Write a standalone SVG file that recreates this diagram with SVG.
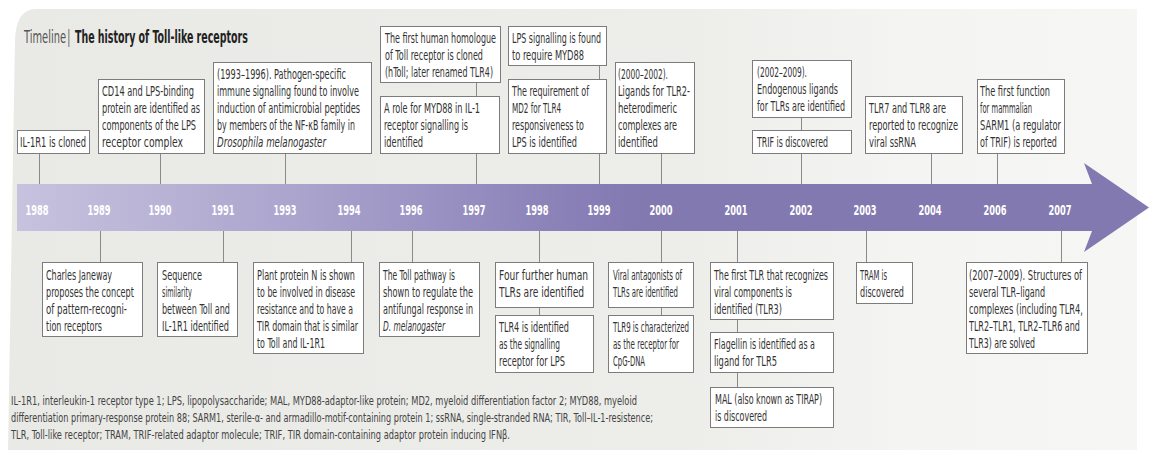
<svg xmlns="http://www.w3.org/2000/svg" width="1151" height="450" viewBox="0 0 1151 450">
<defs>
<linearGradient id="panelG" gradientUnits="userSpaceOnUse" x1="0" y1="0" x2="1140" y2="0">
<stop offset="0" stop-color="#e9e9e5"/>
<stop offset="0.6" stop-color="#ededea"/>
<stop offset="0.8" stop-color="#f4f4f2"/>
<stop offset="1" stop-color="#f6f6f4"/>
</linearGradient>
<linearGradient id="bandG" gradientUnits="userSpaceOnUse" x1="17" y1="0" x2="640" y2="0">
<stop offset="0" stop-color="#c7c2de"/>
<stop offset="0.45" stop-color="#aba4cd"/>
<stop offset="0.85" stop-color="#8c83b9"/>
<stop offset="1" stop-color="#8379b1"/>
</linearGradient>
<style>
.t{font-family:"DejaVu Sans Condensed","Liberation Sans Narrow","Liberation Sans",sans-serif;font-size:13.5px;fill:#333}
.i{font-style:italic}
.bx{fill:#fff;stroke:#7c7c7c;stroke-width:1}
.c line{stroke:#8a8a8a;stroke-width:1}
.y{font-family:"DejaVu Sans Condensed","Liberation Sans Narrow","Liberation Sans",sans-serif;font-size:14px;font-weight:bold;fill:#fff;text-anchor:middle}
.f{font-family:"DejaVu Sans Condensed","Liberation Sans Narrow","Liberation Sans",sans-serif;font-size:12.5px;fill:#444}
text{lengthAdjust:spacingAndGlyphs}
</style>
</defs>
<rect width="1151" height="450" fill="#fff"/>
<path d="M36 9 H1137 V450 H8 L15 40 Q16 9 36 9 Z" fill="url(#panelG)"/>
<text transform="translate(24,43) scale(0.6,1)" class="t" style="font-size:17px;fill:#555"><tspan x="0" textLength="70" lengthAdjust="spacingAndGlyphs">Timeline</tspan><tspan x="72">|</tspan><tspan x="85" font-weight="bold" fill="#222" textLength="288" lengthAdjust="spacingAndGlyphs">The history of Toll-like receptors</tspan></text>

<g id="timeline-arrow">
<polygon points="17,184 1092,184 1084,163 1149,207.5 1084,252 1092,231 17,231" fill="url(#bandG)"/>
<text class="y" x="37" y="215" textLength="23" lengthAdjust="spacingAndGlyphs">1988</text>
<text class="y" x="99" y="215" textLength="23" lengthAdjust="spacingAndGlyphs">1989</text>
<text class="y" x="160" y="215" textLength="23" lengthAdjust="spacingAndGlyphs">1990</text>
<text class="y" x="223" y="215" textLength="23" lengthAdjust="spacingAndGlyphs">1991</text>
<text class="y" x="285" y="215" textLength="23" lengthAdjust="spacingAndGlyphs">1993</text>
<text class="y" x="349" y="215" textLength="23" lengthAdjust="spacingAndGlyphs">1994</text>
<text class="y" x="411" y="215" textLength="23" lengthAdjust="spacingAndGlyphs">1996</text>
<text class="y" x="474" y="215" textLength="23" lengthAdjust="spacingAndGlyphs">1997</text>
<text class="y" x="537" y="215" textLength="23" lengthAdjust="spacingAndGlyphs">1998</text>
<text class="y" x="599" y="215" textLength="23" lengthAdjust="spacingAndGlyphs">1999</text>
<text class="y" x="661" y="215" textLength="23" lengthAdjust="spacingAndGlyphs">2000</text>
<text class="y" x="736" y="215" textLength="23" lengthAdjust="spacingAndGlyphs">2001</text>
<text class="y" x="801" y="215" textLength="23" lengthAdjust="spacingAndGlyphs">2002</text>
<text class="y" x="865" y="215" textLength="23" lengthAdjust="spacingAndGlyphs">2003</text>
<text class="y" x="930" y="215" textLength="23" lengthAdjust="spacingAndGlyphs">2004</text>
<text class="y" x="995" y="215" textLength="23" lengthAdjust="spacingAndGlyphs">2006</text>
<text class="y" x="1060" y="215" textLength="23" lengthAdjust="spacingAndGlyphs">2007</text>
</g>

<g id="connectors" class="c">
<line x1="39.5" y1="153" x2="39.5" y2="184"/>
<line x1="160.5" y1="153" x2="160.5" y2="184"/>
<line x1="285.5" y1="153" x2="285.5" y2="184"/>
<line x1="476.5" y1="82" x2="476.5" y2="96"/>
<line x1="476.5" y1="153" x2="476.5" y2="184"/>
<line x1="599.5" y1="65" x2="599.5" y2="79"/>
<line x1="599.5" y1="153" x2="599.5" y2="184"/>
<line x1="661.5" y1="153" x2="661.5" y2="184"/>
<line x1="801.5" y1="117" x2="801.5" y2="130"/>
<line x1="801.5" y1="153" x2="801.5" y2="184"/>
<line x1="931.5" y1="153" x2="931.5" y2="184"/>
<line x1="997.5" y1="153" x2="997.5" y2="184"/>
<line x1="100.5" y1="231" x2="100.5" y2="262"/>
<line x1="223.5" y1="231" x2="223.5" y2="262"/>
<line x1="351.5" y1="231" x2="351.5" y2="262"/>
<line x1="412.5" y1="231" x2="412.5" y2="262"/>
<line x1="539.5" y1="231" x2="539.5" y2="262"/>
<line x1="539.5" y1="307" x2="539.5" y2="315"/>
<line x1="661.5" y1="231" x2="661.5" y2="262"/>
<line x1="661.5" y1="307" x2="661.5" y2="315"/>
<line x1="737.5" y1="231" x2="737.5" y2="262"/>
<line x1="737.5" y1="319" x2="737.5" y2="332"/>
<line x1="737.5" y1="372" x2="737.5" y2="387"/>
<line x1="866.5" y1="231" x2="866.5" y2="262"/>
<line x1="1061.5" y1="231" x2="1061.5" y2="262"/>
</g>

<g id="n1988" class="t">
<rect class="bx" x="17.5" y="130.5" width="72" height="23"/>
<g transform="translate(20,0) scale(0.68,1)">
<text x="0" y="147" textLength="97.1" lengthAdjust="spacingAndGlyphs">IL-1R1 is cloned</text>
</g></g>
<g id="n1990" class="t">
<rect class="bx" x="98.5" y="79.5" width="106" height="74"/>
<g transform="translate(102,0) scale(0.68,1)">
<text x="0" y="96" textLength="135.3" lengthAdjust="spacingAndGlyphs">CD14 and LPS-binding</text>
<text x="0" y="113" textLength="144.1" lengthAdjust="spacingAndGlyphs">protein are identified as</text>
<text x="0" y="130" textLength="138.2" lengthAdjust="spacingAndGlyphs">components of the LPS</text>
<text x="0" y="147" textLength="119.1" lengthAdjust="spacingAndGlyphs">receptor complex</text>
</g></g>
<g id="n1993" class="t">
<rect class="bx" x="213.5" y="62.5" width="158" height="91"/>
<g transform="translate(217,0) scale(0.68,1)">
<text x="0" y="79" textLength="189.7" lengthAdjust="spacingAndGlyphs">(1993–1996). Pathogen-specific</text>
<text x="0" y="96" textLength="208.8" lengthAdjust="spacingAndGlyphs">immune signalling found to involve</text>
<text x="0" y="113" textLength="210.3" lengthAdjust="spacingAndGlyphs">induction of antimicrobial peptides</text>
<text x="0" y="130" textLength="202.9" lengthAdjust="spacingAndGlyphs">by members of the NF-κB family in</text>
<text x="0" y="147" class="i" textLength="160.3" lengthAdjust="spacingAndGlyphs">Drosophila melanogaster</text>
</g></g>
<g id="n1997a" class="t">
<rect class="bx" x="380.5" y="26.5" width="120" height="56"/>
<g transform="translate(385,0) scale(0.68,1)">
<text x="0" y="43" textLength="163.2" lengthAdjust="spacingAndGlyphs">The first human homologue</text>
<text x="0" y="60" textLength="144.1" lengthAdjust="spacingAndGlyphs">of Toll receptor is cloned</text>
<text x="0" y="77" textLength="158.8" lengthAdjust="spacingAndGlyphs">(hToll; later renamed TLR4)</text>
</g></g>
<g id="n1997b" class="t">
<rect class="bx" x="380.5" y="96.5" width="119" height="57"/>
<g transform="translate(384,0) scale(0.68,1)">
<text x="0" y="113" textLength="141.2" lengthAdjust="spacingAndGlyphs">A role for MYD88 in IL-1</text>
<text x="0" y="130" textLength="123.5" lengthAdjust="spacingAndGlyphs">receptor signalling is</text>
<text x="0" y="147" textLength="57.4" lengthAdjust="spacingAndGlyphs">identified</text>
</g></g>
<g id="n1999a" class="t">
<rect class="bx" x="508.5" y="26.5" width="98" height="39"/>
<g transform="translate(512,0) scale(0.68,1)">
<text x="0" y="43" textLength="130.9" lengthAdjust="spacingAndGlyphs">LPS signalling is found</text>
<text x="0" y="60" textLength="105.9" lengthAdjust="spacingAndGlyphs">to require MYD88</text>
</g></g>
<g id="n1999b" class="t">
<rect class="bx" x="508.5" y="79.5" width="98" height="74"/>
<g transform="translate(512,0) scale(0.68,1)">
<text x="0" y="96" textLength="113.2" lengthAdjust="spacingAndGlyphs">The requirement of</text>
<text x="0" y="113" textLength="72.1" lengthAdjust="spacingAndGlyphs">MD2 for TLR4</text>
<text x="0" y="130" textLength="105.9" lengthAdjust="spacingAndGlyphs">responsiveness to</text>
<text x="0" y="147" textLength="95.6" lengthAdjust="spacingAndGlyphs">LPS is identified</text>
</g></g>
<g id="n2000a" class="t">
<rect class="bx" x="615.5" y="62.5" width="79" height="91"/>
<g transform="translate(618,0) scale(0.68,1)">
<text x="0" y="79" textLength="73.5" lengthAdjust="spacingAndGlyphs">(2000–2002).</text>
<text x="0" y="96" textLength="105.9" lengthAdjust="spacingAndGlyphs">Ligands for TLR2-</text>
<text x="0" y="113" textLength="86.8" lengthAdjust="spacingAndGlyphs">heterodimeric</text>
<text x="0" y="130" textLength="86.8" lengthAdjust="spacingAndGlyphs">complexes are</text>
<text x="0" y="147" textLength="58.8" lengthAdjust="spacingAndGlyphs">identified</text>
</g></g>
<g id="n2002a" class="t">
<rect class="bx" x="752.5" y="60.5" width="99" height="57"/>
<g transform="translate(757,0) scale(0.68,1)">
<text x="0" y="77" textLength="73.5" lengthAdjust="spacingAndGlyphs">(2002–2009).</text>
<text x="0" y="94" textLength="119.1" lengthAdjust="spacingAndGlyphs">Endogenous ligands</text>
<text x="0" y="111" textLength="129.4" lengthAdjust="spacingAndGlyphs">for TLRs are identified</text>
</g></g>
<g id="n2002b" class="t">
<rect class="bx" x="752.5" y="130.5" width="99" height="23"/>
<g transform="translate(757,0) scale(0.68,1)">
<text x="0" y="147" textLength="104.4" lengthAdjust="spacingAndGlyphs">TRIF is discovered</text>
</g></g>
<g id="n2004" class="t">
<rect class="bx" x="865.5" y="96.5" width="97" height="57"/>
<g transform="translate(869,0) scale(0.68,1)">
<text x="0" y="113" textLength="113.2" lengthAdjust="spacingAndGlyphs">TLR7 and TLR8 are</text>
<text x="0" y="130" textLength="130.9" lengthAdjust="spacingAndGlyphs">reported to recognize</text>
<text x="0" y="147" textLength="69.1" lengthAdjust="spacingAndGlyphs">viral ssRNA</text>
</g></g>
<g id="n2006" class="t">
<rect class="bx" x="977.5" y="79.5" width="87" height="74"/>
<g transform="translate(980,0) scale(0.68,1)">
<text x="0" y="96" textLength="102.9" lengthAdjust="spacingAndGlyphs">The first function</text>
<text x="0" y="113" textLength="76.5" lengthAdjust="spacingAndGlyphs">for mammalian</text>
<text x="0" y="130" textLength="119.1" lengthAdjust="spacingAndGlyphs">SARM1 (a regulator</text>
<text x="0" y="147" textLength="113.2" lengthAdjust="spacingAndGlyphs">of TRIF) is reported</text>
</g></g>

<g id="n1989" class="t">
<rect class="bx" x="42.5" y="262.5" width="100" height="74"/>
<g transform="translate(46,0) scale(0.68,1)">
<text x="0" y="280" textLength="97.1" lengthAdjust="spacingAndGlyphs">Charles Janeway</text>
<text x="0" y="297" textLength="129.4" lengthAdjust="spacingAndGlyphs">proposes the concept</text>
<text x="0" y="314" textLength="119.1" lengthAdjust="spacingAndGlyphs">of pattern-recogni-</text>
<text x="0" y="331" textLength="82.4" lengthAdjust="spacingAndGlyphs">tion receptors</text>
</g></g>
<g id="n1991" class="t">
<rect class="bx" x="157.5" y="262.5" width="80" height="74"/>
<g transform="translate(162,0) scale(0.68,1)">
<text x="0" y="280" textLength="58.8" lengthAdjust="spacingAndGlyphs">Sequence</text>
<text x="0" y="297" textLength="44" lengthAdjust="spacingAndGlyphs">similarity</text>
<text x="0" y="314" textLength="100" lengthAdjust="spacingAndGlyphs">between Toll and</text>
<text x="0" y="331" textLength="98.5" lengthAdjust="spacingAndGlyphs">IL-1R1 identified</text>
</g></g>
<g id="n1994" class="t">
<rect class="bx" x="253.5" y="262.5" width="110" height="91"/>
<g transform="translate(257,0) scale(0.68,1)">
<text x="0" y="280" textLength="144.1" lengthAdjust="spacingAndGlyphs">Plant protein N is shown</text>
<text x="0" y="297" textLength="144.1" lengthAdjust="spacingAndGlyphs">to be involved in disease</text>
<text x="0" y="314" textLength="141.2" lengthAdjust="spacingAndGlyphs">resistance and to have a</text>
<text x="0" y="331" textLength="148.5" lengthAdjust="spacingAndGlyphs">TIR domain that is similar</text>
<text x="0" y="348" textLength="100" lengthAdjust="spacingAndGlyphs">to Toll and IL-1R1</text>
</g></g>
<g id="n1996" class="t">
<rect class="bx" x="379.5" y="262.5" width="100" height="74"/>
<g transform="translate(383,0) scale(0.68,1)">
<text x="0" y="280" textLength="105.9" lengthAdjust="spacingAndGlyphs">The Toll pathway is</text>
<text x="0" y="297" textLength="132.4" lengthAdjust="spacingAndGlyphs">shown to regulate the</text>
<text x="0" y="314" textLength="132.4" lengthAdjust="spacingAndGlyphs">antifungal response in</text>
<text x="0" y="331" class="i" textLength="91.2" lengthAdjust="spacingAndGlyphs">D. melanogaster</text>
</g></g>
<g id="n1998a" class="t">
<rect class="bx" x="495.5" y="262.5" width="98" height="45"/>
<g transform="translate(499,0) scale(0.68,1)">
<text x="0" y="280" textLength="130.9" lengthAdjust="spacingAndGlyphs">Four further human</text>
<text x="0" y="297" textLength="125" lengthAdjust="spacingAndGlyphs">TLRs are identified</text>
</g></g>
<g id="n1998b" class="t">
<rect class="bx" x="495.5" y="315.5" width="98" height="57"/>
<g transform="translate(499,0) scale(0.68,1)">
<text x="0" y="332" textLength="102.9" lengthAdjust="spacingAndGlyphs">TLR4 is identified</text>
<text x="0" y="349" textLength="89.7" lengthAdjust="spacingAndGlyphs">as the signalling</text>
<text x="0" y="366" textLength="97.1" lengthAdjust="spacingAndGlyphs">receptor for LPS</text>
</g></g>
<g id="n2000b" class="t">
<rect class="bx" x="608.5" y="262.5" width="85" height="45"/>
<g transform="translate(613,0) scale(0.68,1)">
<text x="0" y="280" textLength="101.5" lengthAdjust="spacingAndGlyphs">Viral antagonists of</text>
<text x="0" y="297" textLength="95.6" lengthAdjust="spacingAndGlyphs">TLRs are identified</text>
</g></g>
<g id="n2000c" class="t">
<rect class="bx" x="608.5" y="315.5" width="85" height="57"/>
<g transform="translate(613,0) scale(0.68,1)">
<text x="0" y="332" textLength="111.8" lengthAdjust="spacingAndGlyphs">TLR9 is characterized</text>
<text x="0" y="349" textLength="97.1" lengthAdjust="spacingAndGlyphs">as the receptor for</text>
<text x="0" y="366" textLength="47.1" lengthAdjust="spacingAndGlyphs">CpG-DNA</text>
</g></g>
<g id="n2001a" class="t">
<rect class="bx" x="710.5" y="262.5" width="123" height="57"/>
<g transform="translate(714,0) scale(0.68,1)">
<text x="0" y="280" textLength="167.6" lengthAdjust="spacingAndGlyphs">The first TLR that recognizes</text>
<text x="0" y="297" textLength="114.7" lengthAdjust="spacingAndGlyphs">viral components is</text>
<text x="0" y="314" textLength="100" lengthAdjust="spacingAndGlyphs">identified (TLR3)</text>
</g></g>
<g id="n2001b" class="t">
<rect class="bx" x="710.5" y="332.5" width="123" height="40"/>
<g transform="translate(714,0) scale(0.68,1)">
<text x="0" y="349" textLength="148.5" lengthAdjust="spacingAndGlyphs">Flagellin is identified as a</text>
<text x="0" y="366" textLength="92.6" lengthAdjust="spacingAndGlyphs">ligand for TLR5</text>
</g></g>
<g id="n2001c" class="t">
<rect class="bx" x="710.5" y="387.5" width="123" height="40"/>
<g transform="translate(715,0) scale(0.68,1)">
<text x="0" y="404" textLength="157.4" lengthAdjust="spacingAndGlyphs">MAL (also known as TIRAP)</text>
<text x="0" y="421" textLength="76.5" lengthAdjust="spacingAndGlyphs">is discovered</text>
</g></g>
<g id="n2003" class="t">
<rect class="bx" x="856.5" y="262.5" width="56" height="41"/>
<g transform="translate(860,0) scale(0.68,1)">
<text x="0" y="280" textLength="39.7" lengthAdjust="spacingAndGlyphs">TRAM is</text>
<text x="0" y="297" textLength="64.7" lengthAdjust="spacingAndGlyphs">discovered</text>
</g></g>
<g id="n2007" class="t">
<rect class="bx" x="966.5" y="262.5" width="121" height="91"/>
<g transform="translate(969,0) scale(0.68,1)">
<text x="0" y="280" textLength="166.2" lengthAdjust="spacingAndGlyphs">(2007–2009). Structures of</text>
<text x="0" y="297" textLength="111.8" lengthAdjust="spacingAndGlyphs">several TLR–ligand</text>
<text x="0" y="314" textLength="167.6" lengthAdjust="spacingAndGlyphs">complexes (including TLR4,</text>
<text x="0" y="331" textLength="163.2" lengthAdjust="spacingAndGlyphs">TLR2–TLR1, TLR2–TLR6 and</text>
<text x="0" y="348" textLength="97.1" lengthAdjust="spacingAndGlyphs">TLR3) are solved</text>
</g></g>

<g id="footnote" class="f">
<g transform="translate(11,0) scale(0.68,1)">
<text x="0" y="405" textLength="920.6" lengthAdjust="spacingAndGlyphs">IL-1R1, interleukin-1 receptor type 1; LPS, lipopolysaccharide; MAL, MYD88-adaptor-like protein; MD2, myeloid differentiation factor 2; MYD88, myeloid</text>
<text x="0" y="422" textLength="944.1" lengthAdjust="spacingAndGlyphs">differentiation primary-response protein 88; SARM1, sterile-α- and armadillo-motif-containing protein 1; ssRNA, single-stranded RNA; TIR, Toll–IL-1-resistence;</text>
<text x="0" y="439" textLength="733.8" lengthAdjust="spacingAndGlyphs">TLR, Toll-like receptor; TRAM, TRIF-related adaptor molecule; TRIF, TIR domain-containing adaptor protein inducing IFNβ.</text>
</g></g>
</svg>
